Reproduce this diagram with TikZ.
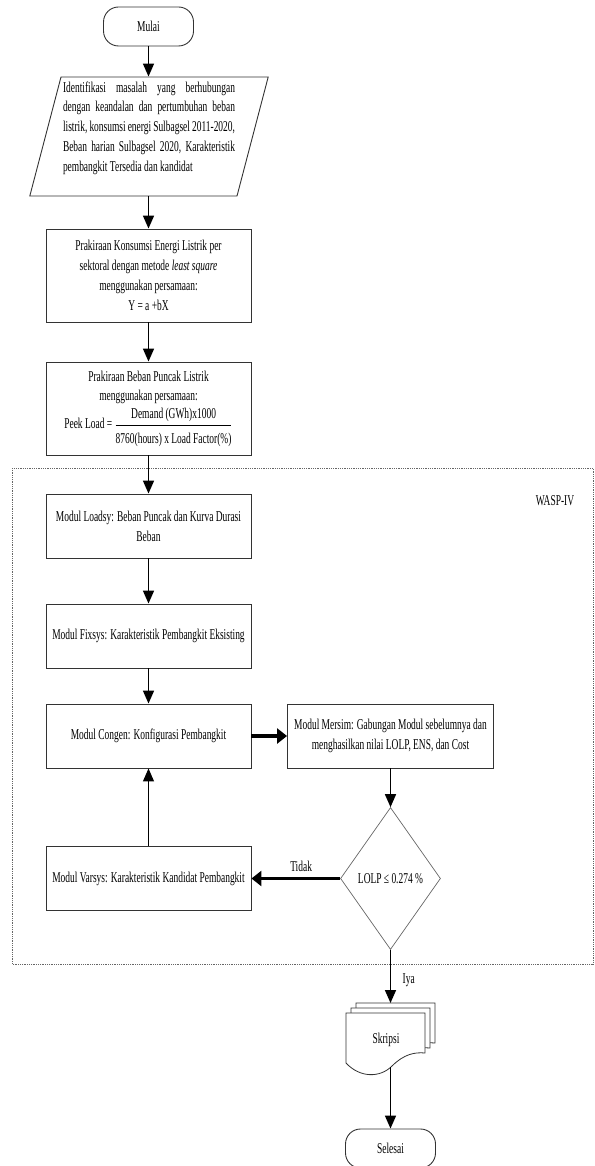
\documentclass[tikz,border=0pt]{standalone}
\usepackage{fontspec}
\setmainfont{Liberation Serif}[FakeStretch=0.63]
\usetikzlibrary{shapes.geometric,arrows.meta}

\tikzset{
  proses/.style={draw=black!80, line width=0.9pt, rectangle, minimum width=205pt, minimum height=64pt, align=center, inner sep=2pt},
  terminal/.style={draw=black!80, line width=0.9pt, rounded corners=15pt, minimum width=90pt, minimum height=39pt},
  masukan/.style={draw=black!80, line width=0.9pt, trapezium, trapezium left angle=75, trapezium right angle=105, trapezium stretches body, minimum width=236pt, minimum height=119pt, text width=172pt, align=justify, inner xsep=2pt},
  keputusan/.style={draw=black!60, line width=0.7pt, diamond, aspect=0.7, minimum width=100pt, minimum height=142pt, inner sep=0pt},
  panah/.style={-{Triangle[length=13pt,width=11pt]}, line width=1.6pt},
  panahtebal/.style={-{Triangle[length=10pt,width=15pt]}, line width=3.6pt},
}

\begin{document}
\begin{tikzpicture}[x=1pt, y=-1pt, font=\fontsize{15}{19.8}\selectfont]
  \useasboundingbox (0,0) rectangle (594,1166);
  \def\kiri{148.5}
  \def\kanan{390.5}

  \node[terminal] (mulai) at (\kiri,26.5) {Mulai};
  \node[masukan] (identifikasi) at (149,136.5) {Identifikasi masalah yang berhubungan\linebreak
    dengan keandalan dan pertumbuhan beban\linebreak
    listrik, konsumsi energi Sulbagsel 2011-2020,\linebreak
    Beban harian Sulbagsel 2020, Karakteristik\linebreak
    pembangkit Tersedia dan kandidat\rule[-20pt]{0pt}{1pt}};
  \node[proses, minimum height=93pt] (konsumsi) at (\kiri,275.5) {Prakiraan Konsumsi Energi Listrik per\\
    sektoral dengan metode \textit{least square}\\menggunakan persamaan:\\Y = a +bX};
  \node[proses, minimum height=93pt] (puncak) at (\kiri,408.5) {Prakiraan Beban Puncak Listrik\\
    menggunakan persamaan:\\[3pt]
    Peek Load = $\displaystyle\frac{\mbox{Demand (GWh)x1000}}{\rule{0pt}{17pt}\mbox{8760(hours) x Load Factor(\%)}}$\rule[-10pt]{0pt}{1pt}};

  \draw[black!60, densely dotted, line width=0.8pt] (12,468) rectangle (593,964);
  \node (wasp) at (555,501) {WASP-IV};

  \node[proses] (loadsy) at (\kiri,526) {Modul Loadsy: Beban Puncak dan Kurva Durasi\\Beban};
  \node[proses] (fixsys) at (\kiri,636) {Modul Fixsys: Karakteristik Pembangkit Eksisting};
  \node[proses] (congen) at (\kiri,736) {Modul Congen: Konfigurasi Pembangkit};
  \node[proses, minimum width=206pt] (mersim) at (\kanan,736) {Modul Mersim: Gabungan Modul sebelumnya dan\\
    menghasilkan nilai LOLP, ENS, dan Cost};
  \node[proses] (varsys) at (\kiri,878.5) {Modul Varsys: Karakteristik Kandidat Pembangkit};
  \node[keputusan] (lolp) at (\kanan,878.5) {LOLP ≤ 0.274 \%};

  \foreach \d in {10,5,0}
    \draw[fill=white, draw=black!80, line width=0.8pt, shift={(\d,-\d)}] (346,1013) -- (425,1013) -- (425,1053)
      .. controls (415,1052) and (404,1054) .. (392,1066) .. controls (380,1078) and (360,1078) .. (346,1063) -- cycle;
  \node (skripsi) at (386,1040) {Skripsi};
  \coordinate (skripsiatas) at (\kanan,1003);
  \coordinate (skripsibawah) at (\kanan,1067);
  \node[terminal] (selesai) at (\kanan,1148.5) {Selesai};

  \draw[panah] (mulai) -- (mulai |- identifikasi.north);
  \draw[panah] (konsumsi |- identifikasi.south) -- (konsumsi);
  \draw[panah] (konsumsi) -- (puncak);
  \draw[panah] (puncak) -- (loadsy);
  \draw[panah] (loadsy) -- (fixsys);
  \draw[panah] (fixsys) -- (congen);
  \draw[panahtebal] (congen) -- (mersim);
  \draw[panah] (mersim) -- (lolp);
  \draw[panahtebal] (lolp) -- node[above, pos=0.44, yshift=2pt] {Tidak} (varsys);
  \draw[panah, line width=1.2pt] (varsys) -- (congen);
  \draw[panah] (lolp) -- node[right, pos=0.57, xshift=8pt] {Iya} (skripsiatas);
  \draw[panah] (skripsibawah) -- (selesai);
\end{tikzpicture}
\end{document}
